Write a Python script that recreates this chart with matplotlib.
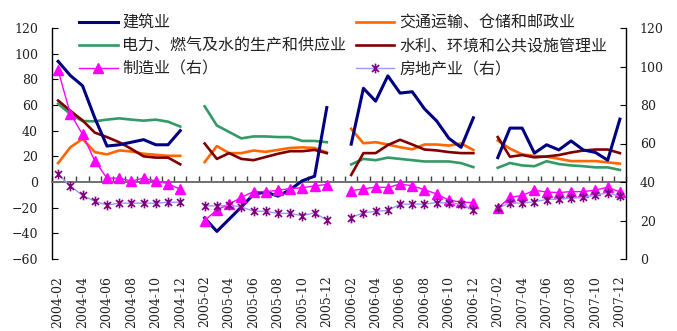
import numpy as np
import matplotlib
matplotlib.use("Agg")
import matplotlib.pyplot as plt
from matplotlib.path import Path

plt.rcParams['font.family'] = ['DejaVu Serif', 'Noto Sans CJK SC']
plt.rcParams['font.size'] = 9
plt.rcParams['axes.unicode_minus'] = True

# Months Feb..Dec for each year; January is left blank in every year
years = [2004, 2005, 2006, 2007]

# Left-axis series, one list per year (Feb..Dec)
jianzhu = [
    [94, 83, 75, 50, 28, 29, 31, 33, 29, 29, 40],
    [-28, -38.5, -29, -19.5, -9.6, -7.8, -11, -6, 1, 4.5, 58],
    [29.5, 73, 63, 82.7, 69.3, 70.3, 57, 47.5, 34, 27, 50],
    [19, 42, 42, 22.5, 29, 25, 32, 25, 23, 17, 49],
]
jiaotong = [
    [14.7, 27, 33.6, 23.3, 21.5, 24.6, 23.8, 22, 21.2, 20.4, 20.4],
    [15.5, 28, 22.5, 22.5, 24.5, 23.5, 25, 26.5, 27, 26.5, 23],
    [41.4, 30.2, 31, 29.2, 27.1, 25.5, 29.2, 29.2, 28.4, 30, 25],
    [32.3, 26, 21.5, 20.3, 19.7, 18.1, 16.3, 16.3, 16.3, 15.3, 14.3],
]
dianli = [
    [61, 53, 47.5, 47.3, 48.6, 49.6, 48.6, 47.8, 48.6, 47, 43.2],
    [59, 44, 39, 34, 35.5, 35.5, 35, 35, 32, 32, 31],
    [13.7, 18, 17, 19, 18, 17, 16, 16, 16, 14.7, 11.6],
    [11.1, 14.8, 12.9, 12.3, 16.2, 14, 12.9, 12.3, 11.4, 11.4, 9.4],
]
shuili = [
    [63.5, 55.5, 48, 38.5, 35, 31, 25.8, 20, 19, 19, 13.8],
    [30, 18, 22.5, 18, 17, 19.5, 22, 24, 24, 25, 22.5],
    [5.5, 22.5, 22.5, 28.8, 32.9, 29.2, 25.3, 24.6, 23.3, 22.5, 22.5],
    [35, 19.7, 21, 19.2, 19.9, 21, 23, 24.5, 25.3, 25.3, 22.5],
]
# Right-axis series
zhizao = [
    [98, 75.5, 64.8, 51, 42, 42, 40.5, 42, 40.5, 39.2, 36.2],
    [20, 25.5, 28.5, 32, 35, 35, 35.7, 36.6, 37, 38, 38.7],
    [35.5, 36.4, 37.4, 37.1, 39, 38, 36, 33.8, 30.5, 29.6, 29.3],
    [26.3, 32, 33, 35.7, 34.8, 34.5, 35, 35, 35.8, 37.3, 34.8],
]
fangdichan = [
    [44, 38, 33, 30, 28, 29, 29, 29, 29, 29.5, 29.5],
    [27.6, 27.6, 27.9, 27.1, 24.8, 24.8, 23.7, 23.7, 22.5, 24, 20.2],
    [21.5, 24, 24.8, 25.2, 28.5, 28.5, 28.5, 29.3, 29.1, 28.5, 25.5],
    [26.5, 29.1, 29, 29.8, 30.9, 31.1, 31.6, 32, 33.3, 34.3, 32.6],
]

names = ['建筑业', '交通运输、仓储和邮政业', '电力、燃气及水的生产和供应业',
         '水利、环境和公共设施管理业', '制造业（右）', '房地产业（右）']

# Category axis: every month from 2004-02 to 2007-12
months = [f"{y}-{m:02d}" for y in years for m in range(1, 13)][1:]
pos = np.arange(len(months))


def flatten(series):
    out = []
    for i, vals in enumerate(series):
        if i > 0:
            out.append(np.nan)  # January gap
        out.extend(vals)
    return np.array(out, dtype=float)


fig = plt.figure(figsize=(6.77, 3.31), dpi=100)
W, H = 677, 331
ax = fig.add_axes([52 / W, (H - 259) / H, (626 - 52) / W, (259 - 28) / H])
ax2 = ax.twinx()

c_navy = '#000080'
c_orange = '#FF6600'
c_green = '#339966'
c_red = '#800000'
c_mag = '#FF00FF'
c_purp = '#800080'

l1, = ax.plot(pos, flatten(jianzhu), color=c_navy, lw=2.2, zorder=5)
l2, = ax.plot(pos, flatten(jiaotong), color=c_orange, lw=1.9, zorder=3)
l3, = ax.plot(pos, flatten(dianli), color=c_green, lw=1.9, zorder=3)
l4, = ax.plot(pos, flatten(shuili), color=c_red, lw=1.9, zorder=4)

star = Path([(0, -1), (0, 1), (-0.72, -0.72), (0.72, 0.72), (-0.72, 0.72), (0.72, -0.72)],
            [Path.MOVETO, Path.LINETO] * 3)
l5, = ax2.plot(pos, flatten(zhizao), color=c_mag, lw=1.0, marker='^', ms=7,
               mfc=c_mag, mec=c_mag)
l6, = ax2.plot(pos, flatten(fangdichan), color='#9999FF', lw=1.0, marker=star, ms=7,
               mec=c_purp, mew=1.2)

ax.set_xlim(-0.5, len(months) - 0.5)
ax.set_ylim(-60, 120)
ax2.set_ylim(0, 120)
ax.set_yticks(np.arange(-60, 121, 20))
ax2.set_yticks(np.arange(0, 121, 20))

for s in ['top', 'right']:
    ax.spines[s].set_visible(False)
for s in ['top', 'left', 'bottom']:
    ax2.spines[s].set_visible(False)
ax.spines['bottom'].set_position(('data', 0))
ax.spines['bottom'].set_color('#707070')
ax.spines['bottom'].set_linewidth(1.4)
ax.spines['left'].set_linewidth(1.0)
ax2.spines['right'].set_linewidth(1.0)

# Tick marks between categories along the zero line
ax.set_xticks(np.arange(-0.5, len(months), 1.0))
ax.tick_params(axis='x', direction='in', length=4, width=1, color='#404040',
               labelbottom=False)

ax.tick_params(axis='y', direction='in', length=4, pad=10, labelcolor='#222222',
               labelsize=9)
ax2.tick_params(axis='y', direction='in', length=4, pad=10, labelcolor='#222222',
                labelsize=9)

# Month labels along the bottom edge of the plot
sec = ax.secondary_xaxis(0)
sec.set_xticks(pos[::2], labels=months[::2])
sec.tick_params(length=0, pad=12, labelrotation=90, labelcolor='#222222',
                labelsize=9)
sec.spines['bottom'].set_visible(False)

handles = [l1, l3, l5, l2, l4, l6]
labels = [names[0], names[2], names[4], names[1], names[3], names[5]]
leg = fig.legend(handles, labels, ncol=2, loc='upper left',
                 bbox_to_anchor=(68 / W, 1 - 3 / H), frameon=False,
                 prop=dict(family=['Noto Sans CJK SC', 'DejaVu Sans'], size=11.5),
                 handlelength=2.4, handletextpad=0.3, columnspacing=0.6,
                 labelspacing=0.4, numpoints=1, borderpad=0.2)
for t in leg.get_texts():
    t.set_color('#222222')

fig.savefig('out.png', dpi=100)
